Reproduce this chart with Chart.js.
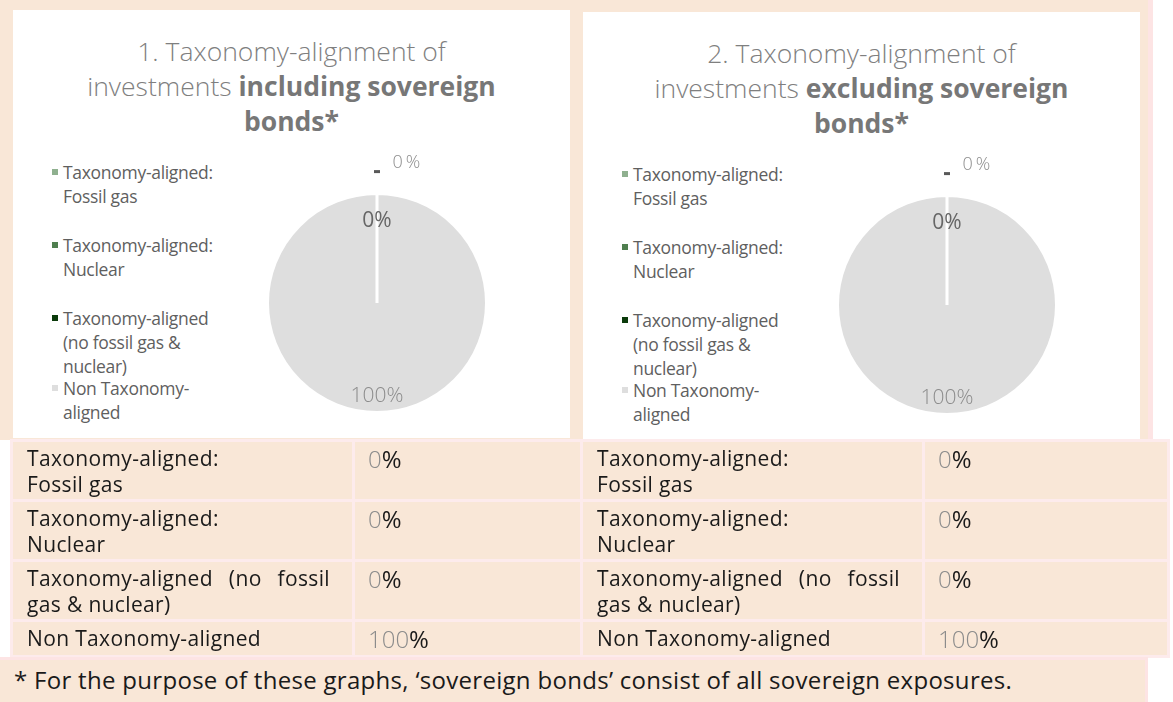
<!DOCTYPE html>
<html>
<head>
<meta charset="utf-8">
<script src="https://cdn.jsdelivr.net/npm/chart.js@4"></script>
<style>
  body { margin: 0; width: 1173px; height: 702px; background: #ffffff; position: relative; overflow: hidden;
         font-family: "Open Sans", sans-serif; }
  .peach { background: #f9e7d7; }
  #top { position: absolute; left: 0; top: 0; width: 1148px; height: 440px; border-right: 5px solid #fde4e4; }
  .panel { position: absolute; background: #ffffff; width: 557px; height: 428px; }
  .title { position: absolute; left: 0; top: 24px; width: 100%; text-align: center; color: #7f7f7f;
           font-size: 26.5px; line-height: 35px; font-weight: 300; }
  .title b { font-weight: 700; color: #777777; }
  .legend { position: absolute; left: 39px; top: 150px; }
  .legend .item { position: relative; height: 73px; padding-left: 11px; color: #5f5f5f;
                  font-size: 17.5px; line-height: 24px; letter-spacing: -0.3px; white-space: nowrap; }
  .legend .item:last-child { height: 50px; margin-top: -3px; }
  .legend .sq { position: absolute; left: 0; top: 9px; width: 6px; height: 6px; }
  .pie { position: absolute; left: 204px; top: 133px; }
  table { position: absolute; left: 10px; top: 439px; width: 1157px; border-collapse: collapse; table-layout: fixed; }
  td { border: 3px solid #fdebec; background: #f9e7d7; vertical-align: top; padding: 0; color: #1a1a1a;
       font-size: 21px; line-height: 26px; letter-spacing: 0.35px; }
  td.lab { padding: 3px 22px 0 14px; }
  td.val { padding: 3px 0 0 13px; font-size: 24px; line-height: 28px; letter-spacing: 0; }
  td.val span { color: #8c8c8c; font-weight: 300; }
  .just { text-align: justify; text-align-last: justify; }
  #foot { position: absolute; left: 0; top: 657px; width: 1148px; height: 45px; border: 3px solid #fde4e4;
          border-left: 0; border-bottom: 0; color: #1a1a1a; font-size: 24px; line-height: 40px; padding-left: 14px;
          letter-spacing: 0.3px; box-sizing: border-box; white-space: nowrap; }
</style>
</head>
<body>
<div id="top" class="peach"></div>
<div class="panel" id="p1" style="left:13px; top:10px;"></div>
<div class="panel" id="p2" style="left:583px; top:12px;"></div>
<table id="tbl"></table>
<div id="foot" class="peach">* For the purpose of these graphs, ‘sovereign bonds’ consist of all sovereign exposures.</div>

<script>
const categories = ['Taxonomy-aligned: Fossil gas', 'Taxonomy-aligned: Nuclear',
                    'Taxonomy-aligned (no fossil gas & nuclear)', 'Non Taxonomy-aligned'];
const legendLines = [['Taxonomy-aligned:', 'Fossil gas'], ['Taxonomy-aligned:', 'Nuclear'],
                     ['Taxonomy-aligned', '(no fossil gas &', 'nuclear)'], ['Non Taxonomy-', 'aligned']];
const tableLines = [['Taxonomy-aligned:', 'Fossil gas'], ['Taxonomy-aligned:', 'Nuclear'],
                    ['Taxonomy-aligned (no fossil', 'gas & nuclear)'], ['Non Taxonomy-aligned']];
const inclSovereign = [0, 0, 0, 100];
const exclSovereign = [0, 0, 0, 100];
const sliceColors = ['#8fb08f', '#4f7f4f', '#0b3b0b', '#dedede'];

const titles = [
  ['1. Taxonomy-alignment of', 'investments <b>including sovereign</b>', '<b>bonds*</b>'],
  ['2. Taxonomy-alignment of', 'investments <b>excluding sovereign</b>', '<b>bonds*</b>']
];

// where each slice's value label goes
const labelPlacement = [
  { r: 1.28, dx: 31, dash: true, font: '300 18px "Open Sans"', color: '#8c8c8c', spacing: '3px' },
  null,
  { r: 0.75, dx: 0, font: '21px "Open Sans"', color: '#666666' },
  { r: 0.85, dx: 0, font: '300 21px "Open Sans"', color: '#8c8c8c' }
];

const pieLabels = {
  id: 'pieLabels',
  afterDatasetsDraw(chart) {
    const ctx = chart.ctx;
    const meta = chart.getDatasetMeta(0);
    const values = chart.data.datasets[0].data;
    meta.data.forEach((arc, i) => {
      const pl = labelPlacement[i];
      if (!pl) return;
      const p = arc.getProps(['x', 'y', 'startAngle', 'endAngle', 'outerRadius'], true);
      const mid = (p.startAngle + p.endAngle) / 2;
      const cx = Math.cos(mid), cy = Math.sin(mid);
      ctx.save();
      if (pl.dash) {
        ctx.fillStyle = '#595959';
        ctx.fillRect(p.x + cx * p.outerRadius * 1.2 - 3, p.y + cy * p.outerRadius * 1.2 - 1.5, 6, 3);
      }
      ctx.font = pl.font;
      if (pl.spacing) ctx.letterSpacing = pl.spacing;
      ctx.fillStyle = pl.color;
      ctx.textAlign = 'center';
      ctx.textBaseline = 'middle';
      ctx.fillText(values[i] + '%', p.x + cx * p.outerRadius * pl.r + pl.dx, p.y + cy * p.outerRadius * pl.r);
      ctx.restore();
    });
  }
};

function buildPanel(id, title, values) {
  const panel = document.getElementById(id);
  const t = document.createElement('div');
  t.className = 'title';
  t.innerHTML = title.join('<br>');
  panel.appendChild(t);

  const lg = document.createElement('div');
  lg.className = 'legend';
  legendLines.forEach((lines, i) => {
    const it = document.createElement('div');
    it.className = 'item';
    it.innerHTML = '<span class="sq" style="background:' + sliceColors[i] + '"></span>' + lines.join('<br>');
    lg.appendChild(it);
  });
  panel.appendChild(lg);

  const canvas = document.createElement('canvas');
  canvas.className = 'pie';
  canvas.width = 320;
  canvas.height = 320;
  panel.appendChild(canvas);

  new Chart(canvas.getContext('2d'), {
    type: 'pie',
    data: {
      labels: categories,
      datasets: [{
        data: values,
        backgroundColor: sliceColors,
        borderColor: '#ffffff',
        borderWidth: 3
      }]
    },
    options: {
      responsive: false,
      animation: false,
      events: [],
      layout: { padding: 49 },
      plugins: { legend: { display: false }, tooltip: { enabled: false } }
    },
    plugins: [pieLabels]
  });
}

buildPanel('p1', titles[0], inclSovereign);
buildPanel('p2', titles[1], exclSovereign);

// table under the charts
const tbl = document.getElementById('tbl');
const widths = [342, 228, 342, 245];
const cg = document.createElement('colgroup');
widths.forEach(w => {
  const col = document.createElement('col');
  col.style.width = w + 'px';
  cg.appendChild(col);
});
tbl.appendChild(cg);
tableLines.forEach((lines, i) => {
  const tr = document.createElement('tr');
  tr.style.height = (i === 3 ? 36 : 60) + 'px';
  [inclSovereign, exclSovereign].forEach(vals => {
    const lab = document.createElement('td');
    lab.className = 'lab';
    lab.innerHTML = lines.map((l, k) => '<div' + (lines.length > 1 && k === 0 && i === 2 ? ' class="just"' : '') + '>' + l + '</div>').join('');
    const val = document.createElement('td');
    val.className = 'val';
    val.innerHTML = '<span>' + vals[i] + '</span>%';
    tr.appendChild(lab);
    tr.appendChild(val);
  });
  tbl.appendChild(tr);
});
</script>
</body>
</html>
